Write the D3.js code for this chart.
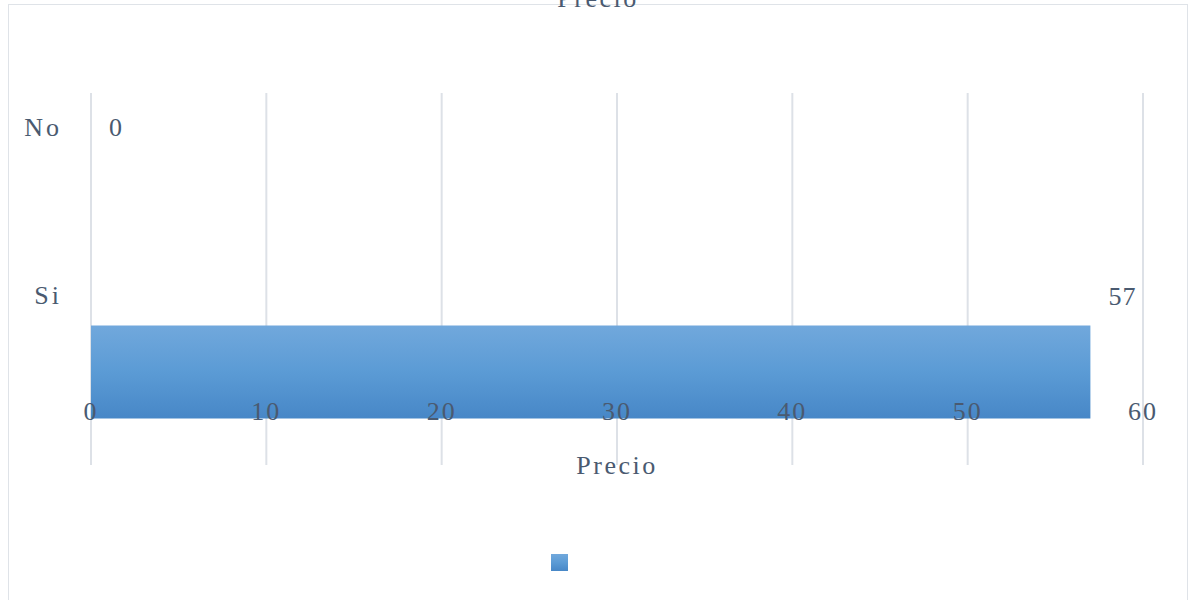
<!DOCTYPE html>
<html><head><meta charset="utf-8">
<script src="https://cdn.jsdelivr.net/npm/d3@7"></script>
<style>html,body{margin:0;padding:0;background:#fff;} text{font-family:"Liberation Serif", serif;}</style>
</head><body>
<script>
const categories = ["No", "Si"];
const values = [0, 57];
const ticks = [0, 10, 20, 30, 40, 50, 60];
const title = "Precio";
const axisTitle = "Precio";

const W = 1190, H = 600;
const svg = d3.select("body").append("svg").attr("width", W).attr("height", H);
const txt = "#4a5a70";

const defs = svg.append("defs");
const g = defs.append("linearGradient").attr("id", "bg").attr("x1", 0).attr("y1", 0).attr("x2", 0).attr("y2", 1);
g.append("stop").attr("offset", "0%").attr("stop-color", "#71a8dc");
g.append("stop").attr("offset", "50%").attr("stop-color", "#5b9bd5");
g.append("stop").attr("offset", "100%").attr("stop-color", "#4787c7");

svg.append("rect").attr("x", 8.5).attr("y", 4.5).attr("width", 1179).attr("height", 600)
  .attr("fill", "#fff").attr("stroke", "#dfe3e8").attr("stroke-width", 1);

const x = d3.scaleLinear().domain([0, 60]).range([91, 1143]);
const y = d3.scaleBand().domain(categories).range([93, 465]).paddingInner(0).paddingOuter(0);
const yl = d3.scalePoint().domain(categories).range([136, 304]);

// gridlines
svg.append("g").selectAll("line").data(ticks).join("line")
  .attr("x1", d => x(d)).attr("x2", d => x(d)).attr("y1", 93).attr("y2", 465)
  .attr("stroke", "#dde1e7").attr("stroke-width", 2);

// bars
const bh = y.bandwidth() * 0.5;
svg.append("g").selectAll("rect").data(categories).join("rect")
  .attr("x", x(0)).attr("y", d => y(d) + (y.bandwidth() - bh) / 2)
  .attr("width", (d, i) => x(values[i]) - x(0)).attr("height", bh)
  .attr("fill", "url(#bg)");

// tick labels
svg.append("g").selectAll("text").data(ticks).join("text")
  .attr("x", d => x(d)).attr("y", 420).attr("text-anchor", "middle")
  .attr("font-size", 26).attr("letter-spacing", 2)
  .attr("fill", txt).text(d => d);

// category labels
svg.append("g").selectAll("text").data(categories).join("text")
  .attr("x", x(0) - 29).attr("y", d => yl(d)).attr("text-anchor", "end")
  .attr("font-size", 26).attr("letter-spacing", 3)
  .attr("fill", txt).text(d => d);

// value labels
svg.append("g").selectAll("text").data(categories).join("text")
  .attr("x", (d, i) => x(values[i]) + 18).attr("y", (d, i) => yl(d) + (i ? 1 : 0))
  .attr("font-size", 26).attr("letter-spacing", 1)
  .attr("fill", txt).text((d, i) => values[i]);

// axis title
svg.append("text").attr("x", (x(0) + x(60)) / 2).attr("y", 474).attr("text-anchor", "middle")
  .attr("font-size", 26).attr("letter-spacing", 2.5)
  .attr("fill", txt).text(axisTitle);

// chart title (cut at top, as in the reference)
svg.append("text").attr("x", 598).attr("y", 7).attr("text-anchor", "middle")
  .attr("font-size", 26).attr("letter-spacing", 2.5)
  .attr("fill", txt).text(title);

// legend
svg.append("rect").attr("x", 551).attr("y", 554).attr("width", 17).attr("height", 17)
  .attr("fill", "url(#bg)");
</script>
</body></html>
